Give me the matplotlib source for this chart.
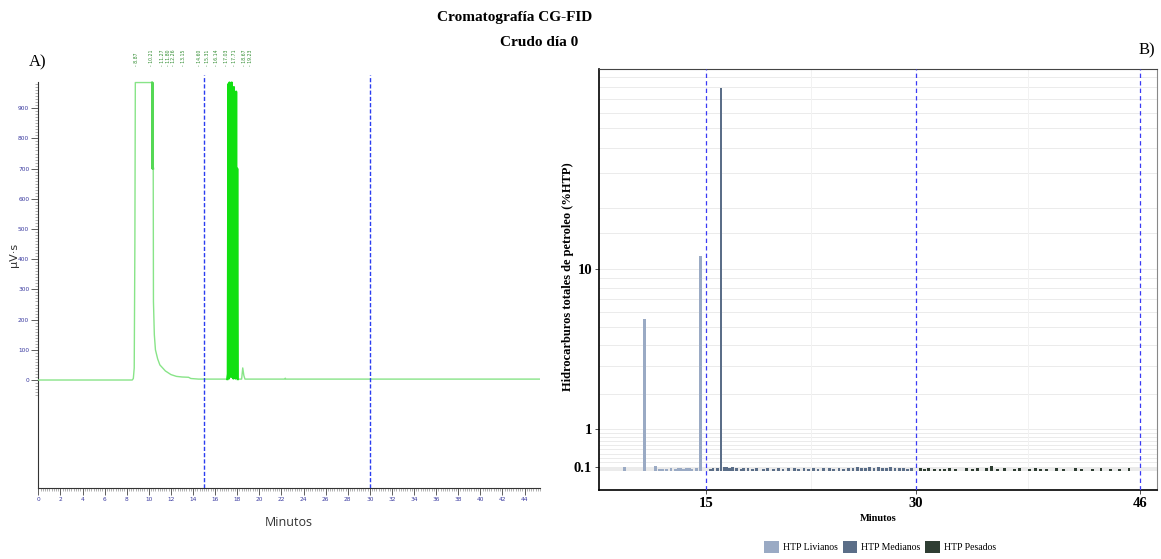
import numpy as np
import matplotlib
matplotlib.use("Agg")
import matplotlib.pyplot as plt
from matplotlib.patches import Patch
from matplotlib.ticker import FixedLocator, MultipleLocator

# ---------------- Data: panel A (chromatogram) ----------------
tiempo_a = [0, 8.5, 8.6, 8.68, 8.74, 8.78, 10.28, 10.30, 10.32, 10.34, 10.36, 10.40,
            10.42, 10.5, 10.6, 10.8, 11.0, 11.5, 12.0, 12.5, 13.0, 13.6, 13.8, 14.5,
            17.10, 17.15, 17.20, 17.25, 17.30, 17.35, 17.40, 17.45, 17.50, 17.55,
            17.60, 17.65, 17.70, 17.75, 17.80, 17.85, 17.90, 17.95, 18.00, 18.05,
            18.40, 18.50, 18.60, 18.70, 22.30, 22.35, 22.40, 45.4]
senal_a = [0, 0, 5, 40, 450, 985, 985, 985, 700, 985, 700, 700,
           260, 150, 100, 70, 50, 30, 18, 12, 10, 9, 5, 3,
           3, 20, 980, 5, 985, 100, 980, 10, 985, 60,
           960, 5, 970, 30, 900, 5, 955, 10, 700, 3,
           3, 40, 15, 3, 3, 6, 3, 3]
picos_t = [8.87, 10.21, 11.27, 11.80, 12.26, 13.15, 14.60, 15.31, 16.14, 17.03, 17.71, 18.67, 19.23]
picos_lbl = ["8.87", "10.21", "11.27", "11.80", "12.26", "13.15", "14.60", "15.31",
             "16.14", "17.03", "17.71", "18.67", "19.23"]
cortes_a = [15, 30]

# ---------------- Data: panel B (%HTP bars) ----------------
t_livianos = [9.2, 10.6, 11.4, 11.7, 11.9, 12.2, 12.5, 12.8, 13.0, 13.2, 13.4, 13.6,
              13.8, 14.0, 14.3, 14.6]
v_livianos = [0.09, 5.5, 0.11, 0.05, 0.04, 0.05, 0.06, 0.05, 0.07, 0.06, 0.05, 0.07,
              0.06, 0.05, 0.06, 11.5]
t_medianos = [15.3, 15.5, 15.8, 16.07, 16.3, 16.5, 16.7, 16.9, 17.2, 17.5, 17.7, 18.0,
              18.3, 18.6, 19.1, 19.4, 19.8, 20.2, 20.5, 20.9, 21.3, 21.6, 22.0, 22.3,
              22.7, 23.0, 23.4, 23.8, 24.1, 24.5, 24.8, 25.2, 25.5, 25.8, 26.1, 26.4,
              26.7, 27.0, 27.3, 27.6, 27.9, 28.2, 28.5, 28.8, 29.1, 29.4, 29.7]
v_medianos = [0.05, 0.06, 0.07, 79.0, 0.08, 0.09, 0.07, 0.08, 0.06, 0.05, 0.07, 0.06,
              0.05, 0.06, 0.05, 0.06, 0.05, 0.06, 0.05, 0.06, 0.07, 0.05, 0.06, 0.05,
              0.06, 0.05, 0.06, 0.07, 0.05, 0.06, 0.05, 0.07, 0.06, 0.08, 0.07, 0.06,
              0.08, 0.07, 0.08, 0.06, 0.07, 0.08, 0.06, 0.07, 0.06, 0.05, 0.06]
t_pesados = [30.3, 30.6, 30.9, 31.3, 31.7, 32.0, 32.4, 32.8, 33.6, 34.0, 34.4, 35.0,
             35.4, 35.8, 36.3, 37.0, 37.4, 38.1, 38.5, 38.9, 39.3, 40.0, 40.5, 41.4,
             41.8, 42.6, 43.2, 43.9, 44.5, 45.2]
v_pesados = [0.06, 0.05, 0.06, 0.05, 0.04, 0.05, 0.06, 0.05, 0.07, 0.05, 0.06, 0.07,
             0.12, 0.05, 0.06, 0.05, 0.07, 0.05, 0.06, 0.05, 0.05, 0.07, 0.05, 0.06,
             0.05, 0.05, 0.06, 0.04, 0.05, 0.06]
cortes_b = [15, 30, 46]
series = ["HTP Livianos", "HTP Medianos", "HTP Pesados"]
colores = ["#9aaac4", "#5b6e88", "#2f3e33"]

W, H = 1161, 559
fig = plt.figure(figsize=(W / 100, H / 100), dpi=100)

def ax_rect(x0, y0, x1, y1):
    return [x0 / W, 1 - y1 / H, (x1 - x0) / W, (y1 - y0) / H]

serif = ["Liberation Serif", "DejaVu Serif"]

# ---------------- Panel A ----------------
axA = fig.add_axes(ax_rect(38.3, 75, 540, 488.3))
tA = np.array(tiempo_a)
sA = np.array(senal_a)
axA.plot(tA, sA, color="#88e488", lw=1.0, zorder=3)
m = (tA >= 17.1) & (tA <= 18.05)
axA.plot(tA[m], sA[m], color="#11e011", lw=1.6, zorder=4)
m2 = (tA >= 10.28) & (tA <= 10.40)
axA.plot(tA[m2], sA[m2], color="#55d855", lw=1.4, zorder=4)
for c in cortes_a:
    axA.axvline(c, color="#2a3df0", lw=1.0, ls=(0, (3, 1.5)), zorder=5)
axA.set_xlim(0, 45.4)
axA.set_ylim(-358.6, 1010)
for s in ["top", "right"]:
    axA.spines[s].set_visible(False)
axA.spines["left"].set_bounds(-358.6, 987)
axA.spines["left"].set_color("#333333")
axA.spines["bottom"].set_color("#333333")
axA.spines["left"].set_linewidth(0.8)
axA.spines["bottom"].set_linewidth(0.8)
axA.xaxis.set_major_locator(MultipleLocator(2))
axA.xaxis.set_minor_locator(MultipleLocator(0.2))
axA.yaxis.set_major_locator(FixedLocator(list(range(0, 1000, 100))))
axA.yaxis.set_minor_locator(FixedLocator(list(range(-50, 990, 10))))
axA.tick_params(axis="both", which="major", labelsize=4.2, labelcolor="#3a3aa0",
                color="#444444", length=5, width=0.6, pad=1.5)
axA.tick_params(axis="both", which="minor", color="#777777", length=2.5, width=0.4)
axA.set_xlabel("Minutos", fontsize=9, color="#333333", family=["Open Sans", "DejaVu Sans"],
               labelpad=10)
fig.text(14 / W, 1 - 255 / H, "µV·s", rotation=90, fontsize=8, ha="center", va="center",
         color="#333333", family=["DejaVu Sans"])
for t, l in zip(picos_t, picos_lbl):
    axA.text(t, 1.022, "- " + l, transform=axA.get_xaxis_transform(), rotation=90,
             fontsize=3.3, color="#2e8b2e", ha="center", va="bottom", clip_on=False)

# ---------------- Panel B ----------------
axB = fig.add_axes(ax_rect(599, 69.3, 1157, 490))
fwd = lambda y: np.arcsinh(np.asarray(y) / 2.0)
inv = lambda y: 2.0 * np.sinh(np.asarray(y))
axB.set_yscale("function", functions=(fwd, inv))
grid_y = ([0.02 * i for i in range(1, 5)] + [0.1 * i for i in range(1, 10)] +
          list(range(1, 10)) + list(range(10, 101, 10)) + [15])
for gy in grid_y:
    axB.axhline(gy, color="#ebebeb", lw=0.7, zorder=0)
for gx in [22.5, 38]:
    axB.axvline(gx, color="#f2f2f2", lw=0.7, zorder=0)
for t, v, c in [(t_livianos, v_livianos, colores[0]), (t_medianos, v_medianos, colores[1]),
                (t_pesados, v_pesados, colores[2])]:
    axB.bar(t, v, width=0.2, color=c, zorder=2)
for c in cortes_b:
    axB.axvline(c, color="#3b3bf5", lw=0.9, ls=(0, (3.5, 2.5)), zorder=3)
axB.set_xlim(7.36, 47.2)
axB.set_ylim(-0.439, 98.3)
axB.set_xticks(cortes_b)
axB.set_yticks([0.1, 1, 10])
axB.set_yticklabels(["0.1", "1", "10"])
axB.yaxis.set_minor_locator(FixedLocator([]))
for lab in axB.get_xticklabels() + axB.get_yticklabels():
    lab.set_family(serif)
    lab.set_fontweight("bold")
    lab.set_fontsize(10.5)
axB.tick_params(axis="both", length=3, width=0.6, pad=2, color="#333333")
axB.spines["left"].set_linewidth(1.2)
axB.spines["bottom"].set_linewidth(1.2)
axB.spines["top"].set_color("#444444")
axB.spines["right"].set_color("#888888")
axB.spines["top"].set_linewidth(0.8)
axB.spines["right"].set_linewidth(0.8)
axB.set_xlabel("Minutos", family=serif, fontweight="bold", fontsize=7.5, labelpad=3)
fig.text(568 / W, 1 - 277 / H, "Hidrocarburos totales de petroleo (%HTP)", rotation=90,
         family=serif, fontweight="bold", fontsize=9, ha="center", va="center")

handles = [Patch(facecolor=c, edgecolor="none") for c in colores]
fig.legend(handles, series, loc="center", bbox_to_anchor=(880 / W, 1 - 547 / H), ncol=3,
           frameon=False, prop={"family": serif, "size": 7}, handlelength=1.5,
           handleheight=1.5, columnspacing=0.5, handletextpad=0.4)

# ---------------- Titles ----------------
fig.text(515 / W, 1 - 18 / H, "Cromatografía CG-FID", ha="center", va="center",
         family=serif, fontweight="bold", fontsize=11)
fig.text(539 / W, 1 - 43 / H, "Crudo día 0", ha="center", va="center",
         family=serif, fontweight="bold", fontsize=11)
fig.text(38 / W, 1 - 62 / H, "A)", ha="center", va="center", family=serif, fontsize=12)
fig.text(1147 / W, 1 - 50 / H, "B)", ha="center", va="center", family=serif, fontsize=12)

fig.savefig("out.png", dpi=100)
